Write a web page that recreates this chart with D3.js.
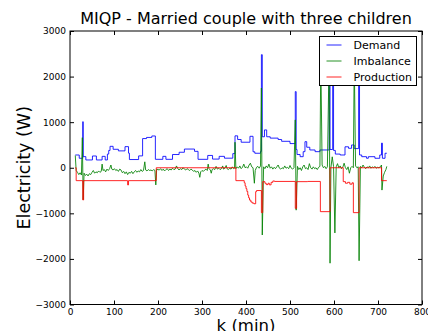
<!DOCTYPE html>
<html>
<head>
<meta charset="utf-8">
<script src="https://cdn.jsdelivr.net/npm/d3@7"></script>
<style>
  body { margin: 0; background: #fff; }
  svg { display: block; }
  text { font-family: "DejaVu Sans", sans-serif; fill: #000; }
</style>
</head>
<body>
<svg id="chart" width="428" height="331"></svg>
<script>
// Chart text and axis ticks
const chartTitle = "MIQP - Married couple with three children";
const xLabel = "k (min)";
const yLabel = "Electricity (W)";
const xTicks = [0, 100, 200, 300, 400, 500, 600, 700, 800];
const yTicks = [-3000, -2000, -1000, 0, 1000, 2000, 3000];
const seriesNames = ["Demand", "Imbalance", "Production"];
const seriesColors = ["#0000ff", "#008000", "#ff0000"];

// Demand: [minute, watts] at each change of level (held until the next point)
const demand = [
  [12, 280], [21, 208], [29, 1010], [30, 244], [36, 171], [51, 258], [60, 171], [73, 250],
  [80, 171], [85, 300], [88, 380], [91, 470], [98, 405], [110, 370], [125, 463], [133, 320],
  [135, 180], [156, 260], [165, 640], [174, 665], [186, 697], [194, 185], [211, 250], [218, 185],
  [233, 290], [248, 340], [260, 410], [283, 360], [291, 185], [313, 270], [324, 190], [339, 250],
  [351, 210], [370, 310], [375, 700], [381, 620], [389, 560], [409, 690], [416, 350], [420, 318],
  [433, 360], [435, 2480], [437, 680], [442, 830], [447, 680], [455, 650], [473, 620], [481, 580],
  [500, 530], [512, 1670], [514, 400], [516, 290], [523, 243], [530, 353], [534, 572], [538, 450],
  [545, 390], [557, 353], [568, 390], [589, 2700], [591, 400], [597, 2600], [599, 380], [603, 300],
  [614, 280], [625, 460], [633, 427], [640, 500], [646, 420], [656, 2500], [658, 280], [663, 243],
  [674, 208], [678, 243], [693, 208], [704, 280], [708, 540], [710, 208], [716, 318], [720, 318]
];

// Production: [minute, watts] at each change of level
const production = [
  [12, 0], [14, -283], [29, -706], [31, -283], [131, -377], [133, -283], [196, 0], [377, -283],
  [396, -330], [398, -400], [400, -460], [402, -520], [404, -600], [406, -660], [408, -710],
  [411, -750], [414, -775], [418, -790], [422, -524], [424, -500], [435, -985], [438, -305],
  [443, -340], [446, -370], [450, -340], [453, -375], [457, -320], [461, -290], [465, -300],
  [512, -890], [515, -305], [540, -300], [569, -963], [591, 0], [621, -305], [626, -340],
  [631, -320], [636, -360], [641, -330], [644, -985], [657, 0], [708, -283], [720, -283]
];

// Imbalance: [minute, watts]
const imbalance = [
  [12, 270], [14, -60], [17, -100], [20, -150], [23, -110], [26, -160], [28, 660], [30, -700],
  [32, -120], [35, -170], [38, -140], [41, -180], [44, -130], [47, -150], [50, -100], [53, -60],
  [56, -120], [59, -90], [62, -110], [65, -70], [68, -100], [71, -80], [73, 80], [75, -60],
  [78, -40], [81, -90], [84, -30], [87, -60], [90, -20], [93, 60], [95, -30], [98, -50],
  [101, -20], [104, -60], [107, -40], [110, -80], [113, -30], [116, -50], [119, -110], [122, -80],
  [125, -130], [128, -90], [131, -150], [134, -100], [137, -120], [140, -80], [143, -130], [146, -90],
  [149, -60], [152, -100], [155, -70], [158, -90], [161, -40], [164, -80], [167, -60], [170, 130],
  [172, -50], [175, -70], [178, -40], [181, -60], [184, -50], [187, -70], [190, -40], [193, -60],
  [195, -377], [197, -30], [200, -40], [203, -50], [206, -20], [209, -60], [212, -30], [215, -70],
  [218, -40], [221, -20], [224, -60], [227, -30], [230, -50], [233, -10], [236, -40], [239, -30],
  [242, 40], [245, -20], [248, -50], [251, -20], [254, -40], [257, 0], [260, -30], [263, -50],
  [266, -20], [269, -40], [272, -60], [275, -30], [278, -50], [281, -80], [284, -60], [287, -100],
  [290, -70], [293, -120], [295, -210], [297, -90], [300, -60], [303, -80], [306, -50], [309, -30],
  [312, -60], [314, 80], [316, -20], [319, -50], [321, -120], [323, -40], [326, -20], [329, -40],
  [332, 30], [335, -30], [338, -10], [341, -40], [344, -20], [347, 40], [349, -30], [352, -10],
  [355, 50], [357, -20], [360, -40], [363, -10], [366, -30], [369, 20], [372, -20], [374, -10],
  [375, 560], [377, -20], [380, 20], [383, -10], [386, 40], [389, -20], [392, 10], [395, 80],
  [398, 0], [401, 20], [404, -10], [407, 60], [410, 100], [413, 20], [416, 0], [419, -340],
  [421, -60], [424, 10], [427, 30], [430, -10], [433, 40], [435, 1750], [437, -1475], [440, 20],
  [443, -20], [446, 40], [449, 0], [452, 80], [455, -10], [458, 20], [461, -30], [464, 10],
  [467, -20], [470, 20], [473, 60], [476, -10], [479, -30], [482, 0], [485, -20], [488, 40],
  [491, -10], [494, 10], [497, -20], [500, 50], [503, -10], [506, -30], [509, 0], [512, 1050],
  [514, -930], [517, 30], [520, -40], [523, 0], [526, -60], [529, 20], [532, 60], [535, -20],
  [538, 0], [541, -40], [544, 90], [547, 0], [550, -30], [553, 20], [556, -20], [559, 0],
  [562, -40], [565, 10], [568, 30], [570, 2400], [573, 60], [576, 0], [579, 30], [582, -20],
  [585, 20], [589, 2500], [591, -2094], [593, 0], [596, 240], [599, 30], [602, -1430], [605, 20],
  [608, 90], [611, 0], [614, 40], [617, -20], [620, 10], [623, 100], [626, 0], [629, -40],
  [632, 20], [635, -120], [638, 0], [641, 30], [644, 0], [646, 2400], [649, 40], [652, 0],
  [655, 20], [657, -2040], [660, 30], [663, 0], [666, 60], [669, 10], [672, -20], [675, 20],
  [678, 0], [681, 40], [684, -10], [687, 20], [690, 0], [693, 30], [696, -10], [699, 10],
  [702, 0], [705, 20], [708, 60], [709, -490], [712, -180], [715, -100], [718, -40], [720, 30]
];

const svg = d3.select("#chart");
const plot = { left: 70, right: 422, top: 31, bottom: 304.5 };

const x = d3.scaleLinear().domain([0, 800]).range([plot.left, plot.right]);
const y = d3.scaleLinear().domain([-3000, 3000]).range([plot.bottom, plot.top]);

svg.append("defs").append("clipPath").attr("id", "plot-clip")
  .append("rect")
  .attr("x", plot.left).attr("y", plot.top)
  .attr("width", plot.right - plot.left).attr("height", plot.bottom - plot.top);

// Series lines
const stepLine = d3.line().x(d => x(d[0])).y(d => y(d[1])).curve(d3.curveStepAfter);
const plainLine = d3.line().x(d => x(d[0])).y(d => y(d[1]));

const lines = svg.append("g").attr("clip-path", "url(#plot-clip)");
[
  { data: demand, gen: stepLine, color: seriesColors[0] },
  { data: imbalance, gen: plainLine, color: seriesColors[1] },
  { data: production, gen: stepLine, color: seriesColors[2] }
].forEach(s => {
  lines.append("path")
    .attr("d", s.gen(s.data))
    .attr("fill", "none")
    .attr("stroke", s.color)
    .attr("stroke-width", 1)
    .attr("stroke-opacity", 0.85);
});

// Axes with inward ticks on all four sides
const tickFont = 9;
const bottomAxis = d3.axisBottom(x).tickValues(xTicks).tickSize(-4).tickPadding(4).tickFormat(d3.format("d"));
const leftAxis = d3.axisLeft(y).tickValues(yTicks).tickSize(-4).tickPadding(4).tickFormat(d3.format("d"));
const topAxis = d3.axisTop(x).tickValues(xTicks).tickSize(-4).tickFormat("");
const rightAxis = d3.axisRight(y).tickValues(yTicks).tickSize(-4).tickFormat("");

function styleAxis(g) {
  g.select(".domain").remove();
  g.selectAll(".tick line").attr("stroke", "#000").attr("stroke-width", 1);
  g.selectAll(".tick text")
    .style("font-family", "'DejaVu Sans', sans-serif")
    .style("font-size", tickFont + "px")
    .attr("fill", "#000");
}

svg.append("g").attr("transform", `translate(0,${plot.bottom})`).call(bottomAxis).call(styleAxis);
svg.append("g").attr("transform", `translate(${plot.left},0)`).call(leftAxis).call(styleAxis);
svg.append("g").attr("transform", `translate(0,${plot.top})`).call(topAxis).call(styleAxis);
svg.append("g").attr("transform", `translate(${plot.right},0)`).call(rightAxis).call(styleAxis);

// Frame
svg.append("rect")
  .attr("x", plot.left).attr("y", plot.top)
  .attr("width", plot.right - plot.left).attr("height", plot.bottom - plot.top)
  .attr("fill", "none").attr("stroke", "#000").attr("stroke-width", 1);

// Title and axis labels
svg.append("text")
  .attr("x", (plot.left + plot.right) / 2).attr("y", 24)
  .attr("text-anchor", "middle")
  .style("font-size", "16px")
  .text(chartTitle);

svg.append("text")
  .attr("x", (plot.left + plot.right) / 2).attr("y", 331)
  .attr("text-anchor", "middle")
  .style("font-size", "16.5px")
  .text(xLabel);

svg.append("text")
  .attr("transform", `translate(30,${(plot.top + plot.bottom) / 2}) rotate(-90)`)
  .attr("text-anchor", "middle")
  .style("font-size", "17.5px")
  .text(yLabel);

// Legend
const legend = svg.append("g").attr("transform", "translate(319.5,36.5)");
legend.append("rect")
  .attr("width", 97).attr("height", 49)
  .attr("fill", "#fff").attr("stroke", "#000").attr("stroke-width", 1);
seriesNames.forEach((name, i) => {
  const cy = 8.5 + i * 16;
  legend.append("line")
    .attr("x1", 7).attr("x2", 22).attr("y1", cy).attr("y2", cy)
    .attr("stroke", seriesColors[i]).attr("stroke-width", 1).attr("stroke-opacity", 0.85);
  legend.append("text")
    .attr("x", 34).attr("y", cy + 4)
    .style("font-size", "11px")
    .text(name);
});
</script>
</body>
</html>
